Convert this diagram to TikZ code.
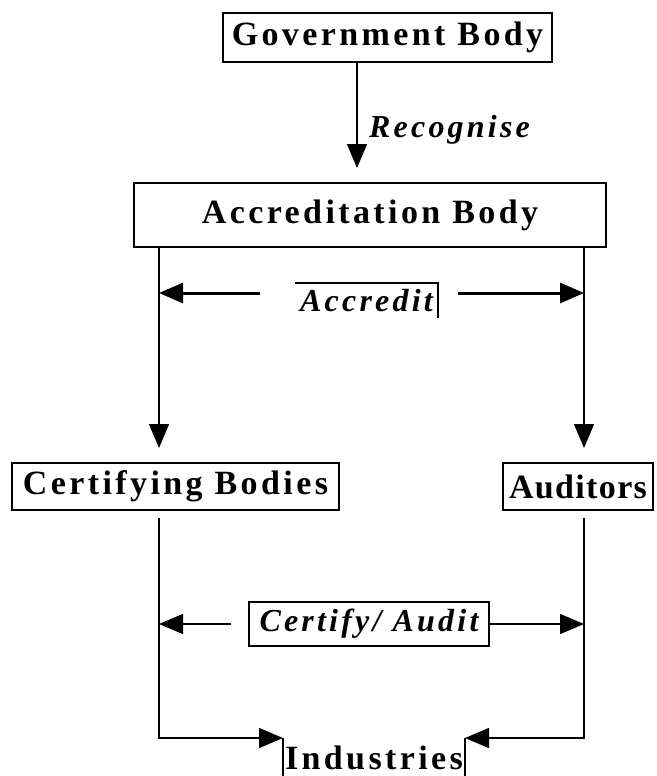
\documentclass[tikz,border=0pt]{standalone}
\usepackage{fontspec}
\setmainfont{Liberation Serif}[LetterSpace=10]
\usetikzlibrary{arrows.meta,positioning}

\tikzset{
  bodybox/.style={draw,line width=1.5pt,inner sep=0pt,font=\fontsize{34}{38}\selectfont\bfseries},
  actlabel/.style={inner sep=0pt,font=\fontsize{32}{36}\selectfont\bfseries\itshape},
  flow/.style={line width=1.5pt,-{Triangle[length=24pt,width=20pt]}}
}

\begin{document}
\begin{tikzpicture}[x=1pt,y=-1pt]
\useasboundingbox (0,0) rectangle (656,776);

% the bodies
\node[bodybox,minimum width=329pt,minimum height=49pt] (gov) at (387.5,37.5) {Government Body};
\node[bodybox,minimum width=472pt,minimum height=64pt] (acc) at (370,215) {Accreditation Body};
\node[bodybox,minimum width=327pt,minimum height=47pt] (cb) at (175.5,486.5) {Certifying Bodies};
\node[bodybox,minimum width=150pt,minimum height=47pt] (aud) at (578,486.5) {\addfontfeature{LetterSpace=4}Auditors};
\node[bodybox,actlabel,minimum width=240pt,minimum height=44pt] (cert) at (369,624) {Certify/ Audit};
\node[bodybox,draw=none,anchor=base,text depth=0pt] (ind) at (374,769) {Industries};

% recognise
\coordinate (recog) at (357,168);
\draw[flow] (recog |- gov.south) -- (recog);
\node[actlabel,anchor=west] (rec) at (369,130) {Recognise};

% accredit
\node[actlabel,minimum width=143pt,minimum height=35pt] (accr) at (366.5,300.5) {Accredit};
\draw[line width=1.5pt] (accr.north west) -- (accr.north east) -- (accr.south east);
\coordinate (cbin) at (159,448);
\coordinate (audin) at (584,448);
\draw[flow] (cbin |- acc.south) -- (cbin);
\draw[flow] (audin |- acc.south) -- (audin);
\coordinate (accL) at (260,293);
\coordinate (accR) at (458,293);
\draw[flow,line width=3pt] (accL) -- (accL -| cbin);
\draw[flow,line width=3pt] (accR) -- (accR -| audin);

% certify / audit
\coordinate (cbout) at (159,518);
\coordinate (audout) at (584,518);
\draw[flow] ([xshift=-17pt]cert.west) -- (cert.west -| cbout);
\draw[flow] (cert.east) -- (cert.east -| audout);

% into industries
\coordinate (indtl) at (283,738);
\coordinate (indtr) at (465,738);
\coordinate (indbl) at (283,776);
\coordinate (indbr) at (465,776);
\draw[flow] (cbout) |- (indtl);
\draw[flow] (audout) |- (indtr);
\draw[line width=1.5pt] (indtl) -- (indbl);
\draw[line width=1.5pt] (indtr) -- (indbr);
\end{tikzpicture}
\end{document}
